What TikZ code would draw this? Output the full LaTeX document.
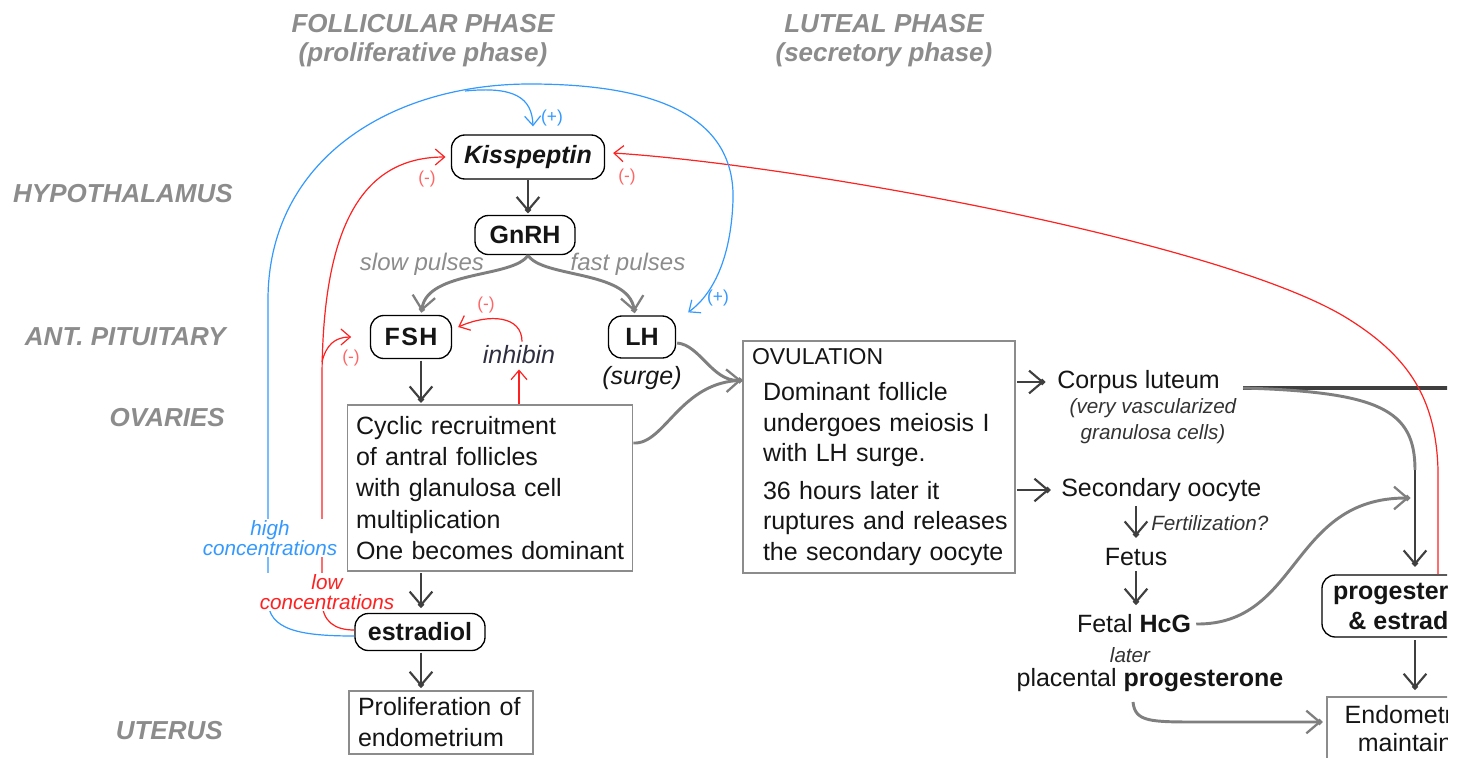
\documentclass[tikz,border=0pt]{standalone}
\usepackage{fontspec}
\setmainfont{Liberation Sans}
\usetikzlibrary{arrows.meta,calc}
\definecolor{lblgray}{HTML}{8C8C8C}
\definecolor{dk}{HTML}{3F3F3F}
\definecolor{lg}{HTML}{7F7F7F}
\definecolor{bl}{HTML}{3399FF}
\definecolor{rd}{HTML}{FF2020}
\definecolor{mred}{HTML}{FF6666}
\definecolor{txt}{HTML}{151515}
\definecolor{boxc}{HTML}{8C8C8C}
\definecolor{smc}{HTML}{333333}
\definecolor{inhc}{HTML}{2E2E40}
\newcommand\setfs[2]{\fontsize{#1}{#2}\selectfont}
\newcommand\oneline[1]{\mbox{#1}}
\begin{document}
\begin{tikzpicture}[x=0.75pt,y=-0.75pt,
  rbox/.style={draw=black, line width=1pt, rounded corners=10pt, inner sep=0pt, font=\setfs{18.75}{22.5}\bfseries, text=txt, align=center},
  sbox/.style={draw=boxc, line width=1pt, inner ysep=0pt, font=\setfs{18.75}{23.6}, text=txt},
  lbl/.style={font=\setfs{19.5}{21.75}\bfseries\itshape, text=lblgray, inner sep=0pt, align=center},
  tx/.style={font=\setfs{18.75}{22.5}, text=txt, inner sep=0pt},
  sm/.style={font=\setfs{15.5}{19.5}\itshape, text=smc, inner sep=0pt, align=center},
  darr/.style={draw=dk, line width=1.9pt, -{Straight Barb[length=10pt,width=17pt,line width=1.6pt,sep=-3.5pt]Circle[length=4.2pt]}},
  garr/.style={draw=lg, line width=2.2pt, -{Straight Barb[length=10pt,width=17pt,line width=1.7pt,sep=-3.5pt]Circle[length=4.2pt]}},
  gline/.style={draw=lg, line width=2.2pt},
  dline/.style={draw=dk, line width=2.3pt},
  rline/.style={draw=rd, line width=0.9pt},
  bline/.style={draw=bl, line width=0.9pt},
  rarr/.style={rline, -{Straight Barb[length=7pt,width=12pt,line width=0.9pt]}},
  barr/.style={bline, -{Straight Barb[length=7pt,width=12pt,line width=0.9pt]}},
  mn/.style={font=\setfs{13}{13}, text=mred, inner sep=0pt},
  pl/.style={font=\setfs{13}{13}, text=bl, inner sep=0pt},
  conc/.style={font=\setfs{15.5}{15}\itshape, inner sep=1pt, fill=white, align=center}
]
\path[use as bounding box] (0,0) rectangle (1459,757);
\begin{scope}
\clip (0,0) rectangle (1447,757);

% headings
\node[lbl] (foll) at (423,41) {FOLLICULAR PHASE\\(proliferative phase)};
\node[lbl] (lut) at (884,41) {LUTEAL PHASE\\(secretory phase)};
\node[lbl, anchor=east] (hyp) at (233,194) {HYPOTHALAMUS};
\node[lbl, anchor=east] (pit) at (226,337) {ANT. PITUITARY};
\node[lbl, anchor=east] (ova) at (225,418) {OVARIES};
\node[lbl, anchor=east] (ute) at (223,731) {UTERUS};

% main nodes
\node[rbox, minimum width=114.75pt, minimum height=33pt, font=\setfs{18.75}{22.5}\bfseries\itshape] (kiss) at (528,157) {Kisspeptin};
\node[rbox, minimum width=75pt, minimum height=29.25pt] (gnrh) at (525,235) {GnRH};
\node[rbox, minimum width=60.75pt, minimum height=32.25pt] (fsh) at (411,337) {F\kern1ptS\kern1ptH};
\node[rbox, minimum width=50.25pt, minimum height=31.5pt] (lh) at (642,337) {LH};
\node[rbox, minimum width=97.5pt, minimum height=27.75pt] (estr) at (420,632) {estradiol};
\node[rbox, minimum width=136.5pt, minimum height=46.5pt] (prog) at (1413,606) {progesterone\\\& estradiol};

\node[sbox, text width=201pt, inner xsep=6.5pt, minimum height=124.5pt, align=left] (cyc) at (490,488)
  {\oneline{Cyclic recruitment}\\\oneline{of antral follicles}\\\oneline{with glanulosa cell}\\\oneline{multiplication}\\\oneline{One becomes dominant}};
\node[sbox, text width=124.5pt, inner xsep=6.75pt, minimum height=47.25pt, align=left, font=\setfs{18.75}{23.25}] (prolif) at (441,722.5)
  {\oneline{Proliferation of}\\\oneline{endometrium}};
\node[sbox, text width=190.5pt, inner xsep=6.75pt, minimum height=174pt, align=left, font=\setfs{18.75}{23}] (ovul) at (879,457)
  {\oneline{\setfs{17.25}{23}OVULATION}\\[4pt]\oneline{\hspace*{8.25pt}Dominant follicle}\\\oneline{\hspace*{8.25pt}undergoes meiosis I}\\\oneline{\hspace*{8.25pt}with LH surge.}\\[5pt]\oneline{\hspace*{8.25pt}36 hours later it}\\\oneline{\hspace*{8.25pt}ruptures and releases}\\\oneline{\hspace*{8.25pt}the secondary oocyte}};
\node[sbox, minimum width=138pt, minimum height=47.25pt, align=center, font=\setfs{18.75}{21}] (endo) at (1419,728.5) {Endometrium\\maintained};

% text nodes
\node[tx, anchor=west] (corpus) at (1057,382) {Corpus luteum};
\node[sm] (vasc) at (1153,421) {(very vascularized\\granulosa cells)};
\node[tx, anchor=west] (sec) at (1061,490) {Secondary oocyte};
\node[sm, anchor=west] (fert) at (1151,523) {Fertilization?};
\node[tx] (fetus) at (1136,557) {Fetus};
\node[tx] (hcg) at (1134,624) {Fetal \textbf{HcG}};
\node[sm] (later) at (1130,655) {later};
\node[tx] (plac) at (1150,680) {placental \textbf{progesterone}};
\node[tx, font=\setfs{18.75}{22.5}\itshape, text=inhc] (inh) at (519,355) {inhibin};
\node[tx, font=\setfs{18.75}{22.5}\itshape] (surge) at (642,378) {(surge)};
\node[tx, font=\setfs{18}{20}\itshape, text=lblgray] (slow) at (422,264) {slow pulses};
\node[tx, font=\setfs{18}{20}\itshape, text=lblgray] (fast) at (628,264) {fast pulses};

% helper coordinates
\coordinate (colA) at (421,0);
\coordinate (ovin) at ($(ovul.north west)+(0,40)$);
\coordinate (cl) at (1243,388);
\coordinate (pv) at (1415,470);
\coordinate (pin) at (1410,498);
\coordinate (pl1) at (1133,702);
\coordinate (pl2) at (1200,722);
\coordinate (rbr) at (322,362);
\coordinate (bbr) at (465,91);

% dark arrows
\draw[darr, shorten >=1.5pt] (kiss.south) -- (kiss.south |- gnrh.north);
\draw[darr, shorten <=1pt, shorten >=1.5pt] (fsh.south -| colA) -- (cyc.north -| colA);
\draw[darr, shorten <=1pt, shorten >=4pt] (cyc.south -| colA) -- (estr.north -| colA);
\draw[darr, shorten <=1pt, shorten >=2pt] (estr.south -| colA) -- (prolif.north -| colA);
\draw[darr, shorten <=1pt, shorten >=9pt] (ovul.east |- corpus.west) -- (corpus.west);
\draw[darr, shorten <=1pt, shorten >=8pt] (ovul.east |- sec.west) -- (sec.west);
\draw[darr, shorten <=3pt, shorten >=8pt] (sec.south -| fetus.north) -- (fetus.north);
\draw[darr, shorten <=4pt, shorten >=7.5pt] (fetus.south) -- (fetus.south |- hcg.north);
\draw[darr, shorten <=2pt, shorten >=5pt] (prog.south -| pv) -- (endo.north -| pv);
\draw[dline] (cl) -- (1459,388);

% gray connectors
\draw[garr, shorten >=2pt] ($(gnrh.south)+(3,0)$) .. controls (514,278) and (428,270) .. (fsh.north -| colA);
\draw[garr, shorten >=2pt] ($(gnrh.south)+(3,0)$) .. controls (542,278) and (628,270) .. ($(lh.north)+(-7,0)$);
\draw[garr] ($(lh.east)+(1,6)$) .. controls (700,345) and (712,381) .. (ovin);
\draw[gline] ($(cyc.east)+(0,-45)$) .. controls (665,445) and (680,381) .. (ovin);
\draw[gline] (cl) .. controls (1380,392) and (1415,410) .. (pv);
\draw[darr, shorten >=6pt] (pv) -- (pv |- prog.north);
\draw[garr] ($(hcg.east)+(5,0)$) .. controls (1300,625) and (1290,498) .. (pin);
\draw[garr, shorten >=3pt] (pl1) .. controls (1135,722) and (1150,722) .. (pl2) -- (endo.west |- pl2);

% red feedback
\draw[rarr, shorten >=4pt] ($(estr.west)+(0,-2)$) .. controls (335,630) and (322,622) .. (322,600) -- (322,380)
   .. controls (322,230) and (360,157) .. (kiss.west);
\draw[rarr, shorten >=14pt] (rbr) .. controls (326,345) and (335,337) .. (fsh.west);
\draw[rarr] ($(cyc.north -| inh.south)$) -- ($(inh.south)+(0,5)$);
\draw[rarr] ($(inh.north)+(3,-4)$) .. controls (522,316) and (490,313) .. ($(fsh.east)+(6,-10)$);
\draw[rarr] ($(prog.north)+(25,0)$) -- (1438,470) .. controls (1436,400) and (1410,358) .. (1350,320)
   .. controls (1230,243) and (800,165) .. ($(kiss.east)+(8,-4)$);

% blue feedback
\draw[barr] ($(estr.west)+(0,4)$) .. controls (300,636) and (268,630) .. (268,600) -- (268,300)
   .. controls (268,160) and (390,84) .. (530,84) .. controls (680,84) and (735,130) .. (733,200)
   .. controls (731,260) and (712,295) .. ($(lh.north east)+(12,-3)$);
\draw[barr] (bbr) .. controls (515,86) and (532,98) .. ($(kiss.north)+(5,-8)$);

% labels on feedback
\node[conc, text=bl] (high) at (270,538) {high\\concentrations};
\node[conc, text=rd] (low) at (327,592) {low\\concentrations};
\node[pl] (p1) at (552,118) {(+)};
\node[pl] (p2) at (718,298) {(+)};
\node[mn] (m1) at (427,179) {(-)};
\node[mn] (m2) at (627,177) {(-)};
\node[mn] (m3) at (486,305) {(-)};
\node[mn] (m4) at (351,358) {(-)};
\end{scope}
\end{tikzpicture}
\end{document}
